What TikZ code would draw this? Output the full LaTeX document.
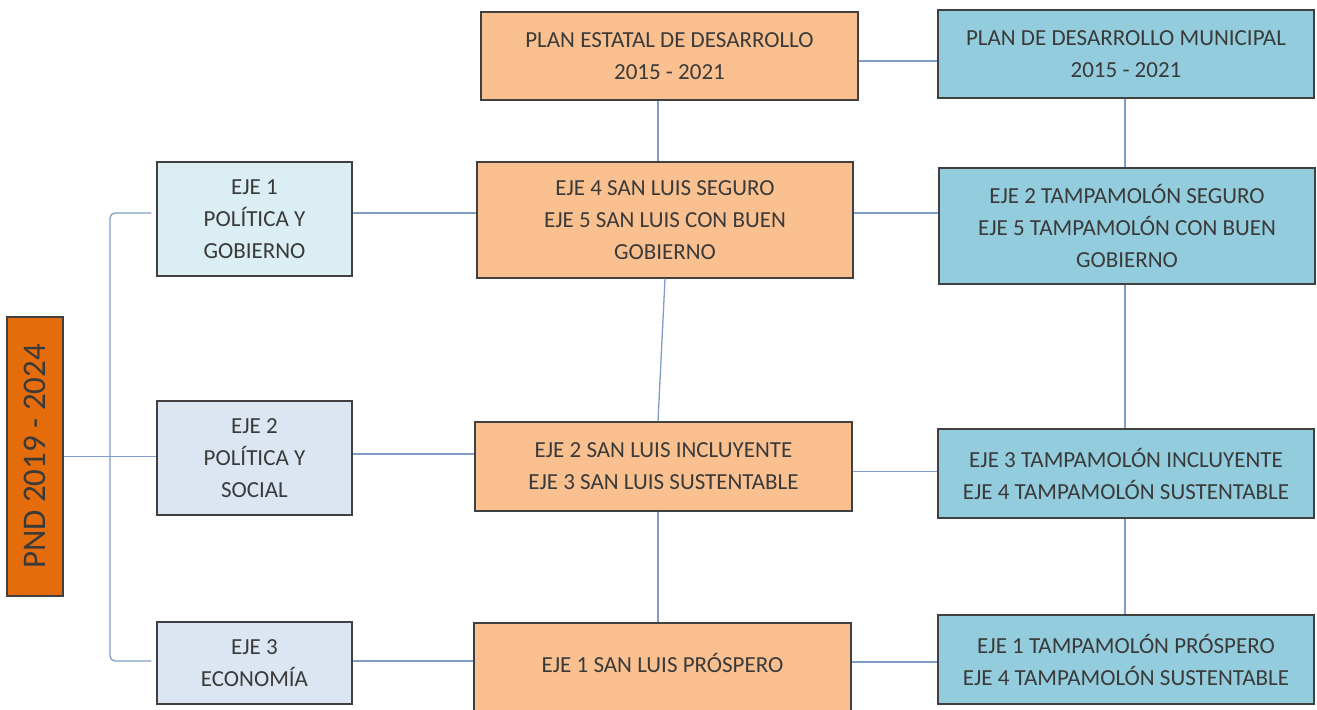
\documentclass[tikz,border=0pt]{standalone}
\usepackage{fontspec}
\setmainfont{Carlito}
\definecolor{pndcol}{HTML}{E46C0A}
\definecolor{estcol}{HTML}{FAC090}
\definecolor{munleft}{HTML}{DAEEF3}
\definecolor{lavcol}{HTML}{DCE6F2}
\definecolor{muncol}{HTML}{93CDDD}
\definecolor{edgecol}{HTML}{404040}
\definecolor{linkcol}{HTML}{7F9DC8}
\definecolor{txtcol}{HTML}{3A3A3A}
\tikzset{
  box/.style={draw=edgecol, line width=0.75pt, text=txtcol, align=center,
    inner sep=0pt, font=\fontsize{11.5}{16}\selectfont},
  link/.style={draw=linkcol, line width=0.65pt}
}
\begin{document}
\begin{tikzpicture}[x=0.5pt, y=-0.5pt]
\useasboundingbox (0,0) rectangle (1317,710);

% PND
\node [box, fill=pndcol, rotate=90, minimum width=139.5pt, minimum height=28pt,
  font=\fontsize{16.5}{18}\selectfont] (pnd) at (35,456.5) {PND 2019 - 2024};

% ejes nacionales
\node [box, fill=munleft, minimum width=97.5pt, minimum height=57pt] (eje1) at (254.5,219) {EJE 1\\POLÍTICA Y\\GOBIERNO};
\node [box, fill=lavcol, minimum width=97.5pt, minimum height=57pt] (eje2) at (254.5,458) {EJE 2\\POLÍTICA Y\\SOCIAL};
\node [box, fill=lavcol, minimum width=97.5pt, minimum height=41pt] (eje3) at (254.5,663) {EJE 3\\ECONOMÍA};

% plan estatal
\node [box, fill=estcol, minimum width=188.5pt, minimum height=44pt] (pest) at (669.5,56) {PLAN ESTATAL DE DESARROLLO\\2015 - 2021};
\node [box, fill=estcol, minimum width=188pt, minimum height=58pt] (sl1) at (665,220) {EJE 4 SAN LUIS SEGURO\\EJE 5 SAN LUIS CON BUEN\\GOBIERNO};
\node [box, fill=estcol, minimum width=188.5pt, minimum height=44.5pt] (sl2) at (663.5,466.5) {EJE 2 SAN LUIS INCLUYENTE\\EJE 3 SAN LUIS SUSTENTABLE};
\node [box, fill=estcol, minimum width=188.5pt, minimum height=46pt, text height=5pt, text depth=1.6pt] (sl3) at (662.5,669) {EJE 1 SAN LUIS PRÓSPERO};

% plan municipal
\node [box, fill=muncol, minimum width=188pt, minimum height=44pt] (pmun) at (1126,54) {PLAN DE DESARROLLO MUNICIPAL\\2015 - 2021};
\node [box, fill=muncol, minimum width=188pt, minimum height=58pt] (tm1) at (1127,226) {EJE 2 TAMPAMOLÓN SEGURO\\EJE 5 TAMPAMOLÓN CON BUEN\\GOBIERNO};
\node [box, fill=muncol, minimum width=188pt, minimum height=44.5pt] (tm2) at (1126,473.5) {EJE 3 TAMPAMOLÓN INCLUYENTE\\EJE 4 TAMPAMOLÓN SUSTENTABLE};
\node [box, fill=muncol, minimum width=188pt, minimum height=44.5pt] (tm3) at (1126,659.5) {EJE 1 TAMPAMOLÓN PRÓSPERO\\EJE 4 TAMPAMOLÓN SUSTENTABLE};

% llave
\coordinate (b1) at ([shift={(-2.5pt,3pt)}]eje1.west);
\coordinate (b3) at ([shift={(-2.5pt,1pt)}]eje3.west);
\draw [link, rounded corners=2.5pt] (b1) -- (110,213) -- (110,661) -- (b3);
\draw [link] (pnd.south) -- (pnd.south -| eje2.west);

% enlaces horizontales
\draw [link] ([yshift=3pt]eje1.east) -- ([yshift=3pt]eje1.east -| sl1.west);
\draw [link] ([yshift=2pt]eje2.east) -- ([yshift=2pt]eje2.east -| sl2.west);
\draw [link] ([yshift=1pt]eje3.east) -- ([yshift=1pt]eje3.east -| sl3.west);
\draw [link] ([yshift=-2.5pt]pest.east) -- ([yshift=-2.5pt]pest.east -| pmun.west);
\draw [link] ([yshift=3.5pt]sl1.east) -- ([yshift=3.5pt]sl1.east -| tm1.west);
\draw [link] ([yshift=-2.5pt]sl2.east) -- ([yshift=-2.5pt]sl2.east -| tm2.west);
\draw [link] ([yshift=3.5pt]sl3.east) -- ([yshift=3.5pt]sl3.east -| tm3.west);

% enlaces verticales
\draw [link] ([xshift=-5.75pt]pest.south) -- ([xshift=-3.5pt]sl1.north);
\draw [link] (sl1.south) -- ([xshift=-2.75pt]sl2.north);
\draw [link] ([xshift=-2.75pt]sl2.south) -- ([xshift=-2.25pt]sl3.north);
\draw [link] ([xshift=-0.5pt]pmun.south) -- ([xshift=-1pt]tm1.north);
\draw [link] ([xshift=-1pt]tm1.south) -- ([xshift=-0.5pt]tm2.north);
\draw [link] ([xshift=-0.5pt]tm2.south) -- ([xshift=-0.5pt]tm3.north);

\end{tikzpicture}
\end{document}
